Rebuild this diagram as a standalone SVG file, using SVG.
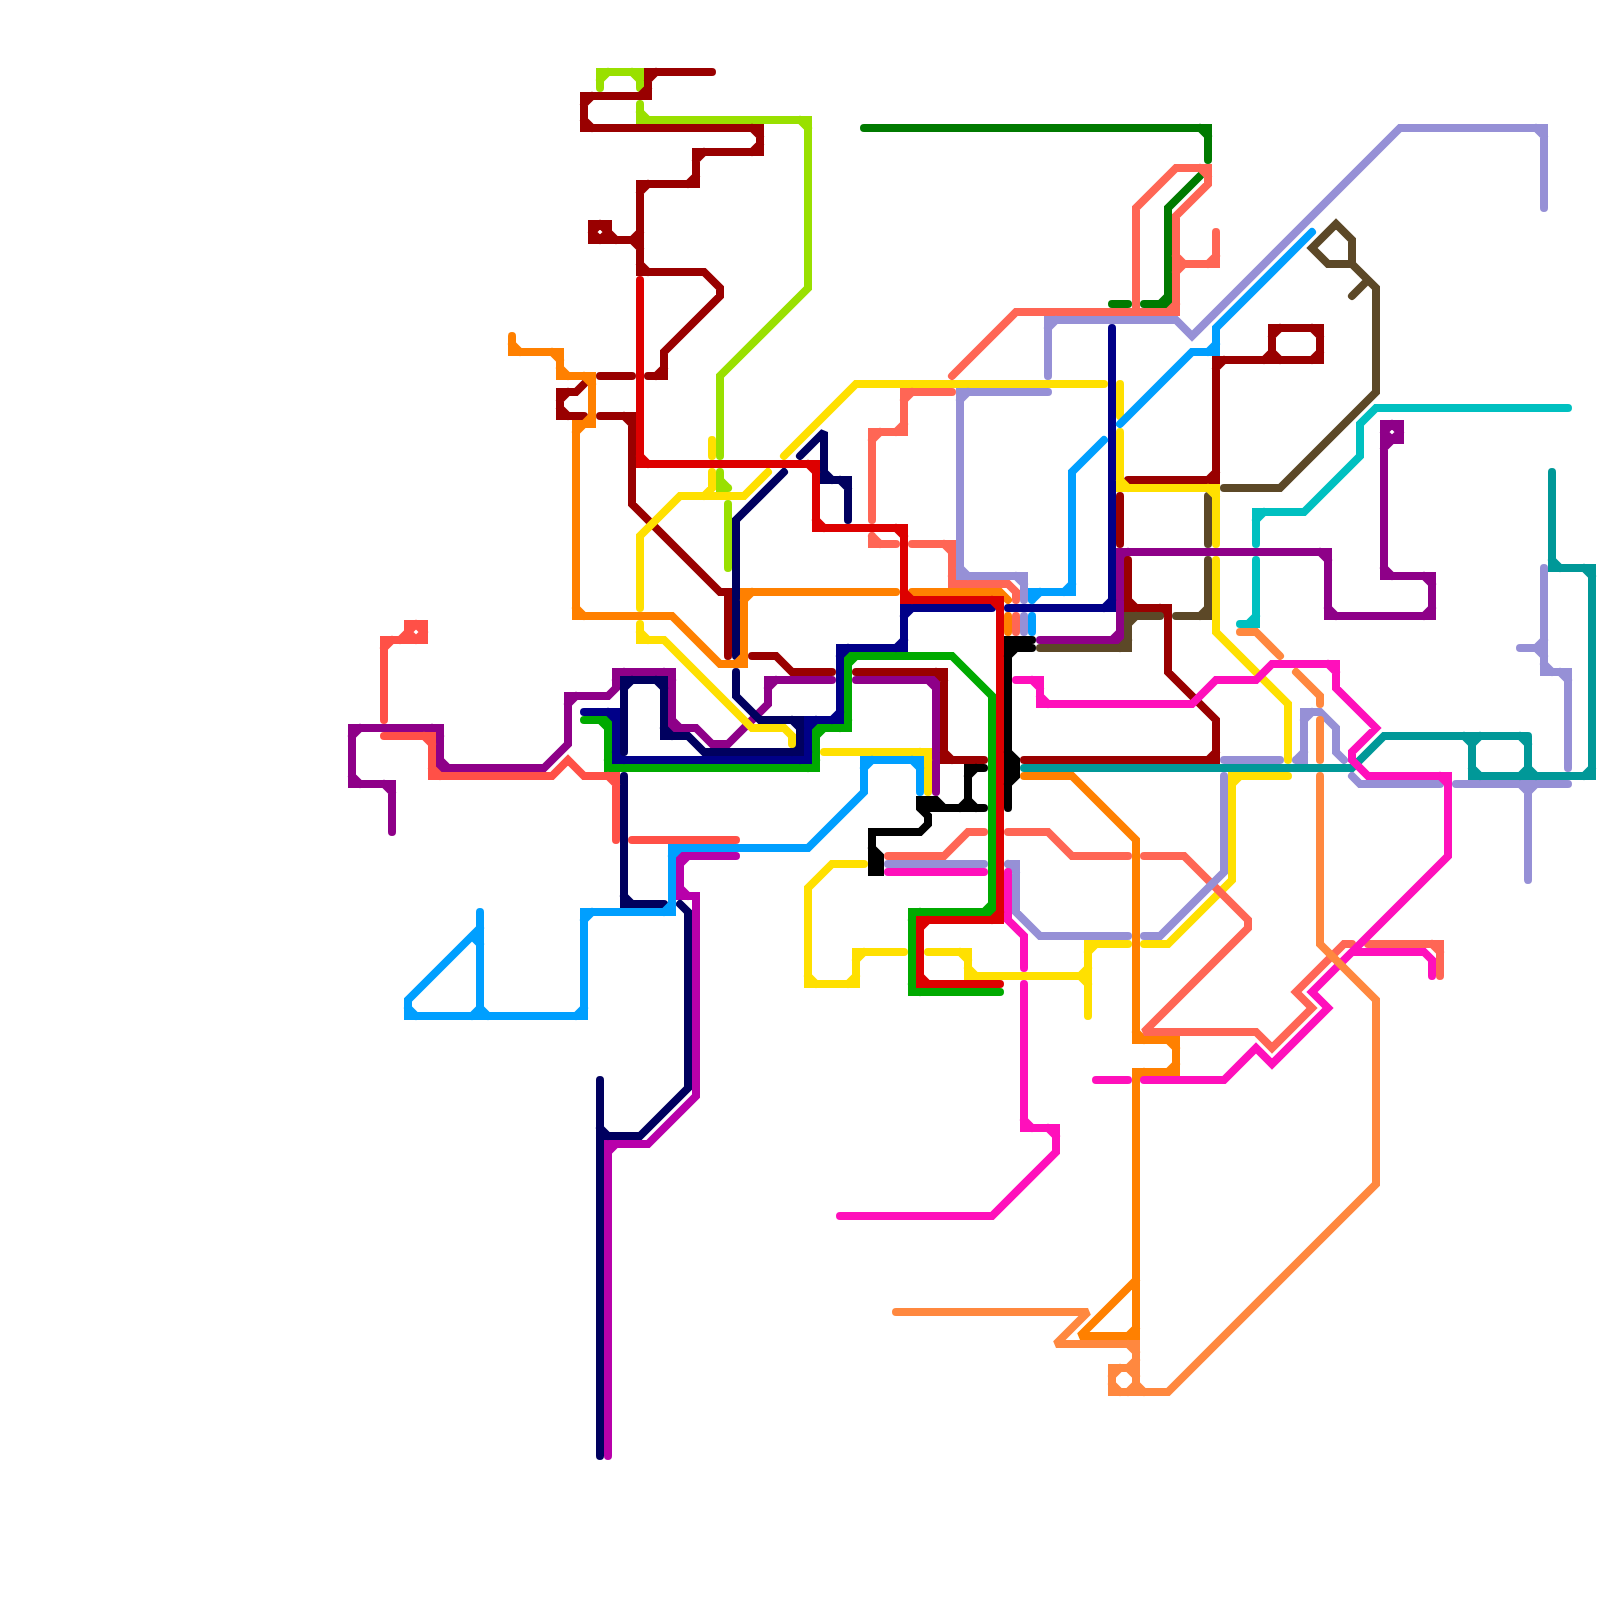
<svg xmlns="http://www.w3.org/2000/svg" width="1600" height="1600" viewBox="0 0 1600 1600">
<style>
path{fill:none;stroke-width:8;stroke-linecap:round;stroke-linejoin:miter;stroke-miterlimit:2}
.lgreen{stroke:#99e000}.dred{stroke:#990000}.red{stroke:#dd0000}.orange{stroke:#ff8000}.yellow{stroke:#ffe000}
.green{stroke:#00aa00}.dgreen{stroke:#007a00}.navy{stroke:#000088}.dnavy{stroke:#00005f}.purple{stroke:#8e0088}.magenta{stroke:#b800aa}
.blue{stroke:#009fff}.sred{stroke:#ff5047}.salmon{stroke:#ff6655}.lorange{stroke:#ff883f}.pink{stroke:#ff10bb}
.lav{stroke:#9690d6}.brown{stroke:#5c4827}.cyan{stroke:#00c0c0}.teal{stroke:#009898}.black{stroke:#000}
</style>
<rect width="1600" height="1600" fill="#fff"/>
<g id="connectors">
<path class="green" d="M584,720 L608,720 L608,768 L816,768 L816,728 L848,728 L848,656 L952,656 L992,696 L992,912 L912,912 L912,992 L1000,992 M600,720 L608,728 M616,768 L608,760 M808,768 L816,760 M824,728 L816,736 M840,728 L848,720 M856,656 L848,664 M984,912 L992,904 M920,912 L912,920 M920,992 L912,984"/>
<path class="dgreen" d="M864,128 L1208,128 L1208,160 M1200,176 L1168,208 L1168,304 L1144,304 M1112,304 L1128,304 M1200,128 L1208,136 M1160,304 L1168,296"/>
<path class="lgreen" d="M600,88 L600,72 L640,72 L640,88 M640,104 L640,120 L808,120 L808,288 L720,376 L720,456 M720,472 L720,488 L728,488 M728,504 L728,568 M608,72 L600,80 M632,72 L640,80 M648,120 L640,112 M800,120 L808,128 M728,488 L720,480"/>
<path class="purple" d="M392,832 L392,784 L352,784 L352,728 L440,728 L440,768 L544,768 L568,744 L568,696 L608,696 L616,688 L616,672 L672,672 L672,728 L696,728 L712,744 L728,744 L768,704 L768,680 L832,680 M384,784 L392,792 M360,784 L352,776 M360,728 L352,736 M432,728 L440,736 M448,768 L440,760 M576,696 L568,704 M624,672 L616,680 M664,672 L672,680 M680,728 L672,720 M776,680 L768,688 M856,680 L936,680 L936,792 M928,680 L936,688 M1040,640 L1120,640 L1120,552 L1328,552 L1328,616 L1432,616 L1432,576 L1384,576 L1384,424 L1400,424 L1400,440 L1384,440 M1112,640 L1120,632 M1128,552 L1120,560 M1320,552 L1328,560 M1336,616 L1328,608 M1424,616 L1432,608 M1424,576 L1432,584 M1392,576 L1384,568 M1392,424 L1384,432 M1392,424 L1400,432 M1392,440 L1400,432 M1392,440 L1384,432 M1392,440 L1384,448"/>
<path class="navy" d="M584,712 L616,712 L616,760 L808,760 L808,720 L840,720 L840,648 L904,648 L904,608 L992,608 M608,712 L616,720 M624,760 L616,752 M800,760 L808,752 M816,720 L808,728 M832,720 L840,712 M848,648 L840,656 M896,648 L904,640 M912,608 L904,616 M1112,328 L1112,608 L1008,608 M1104,608 L1112,600"/>
<path class="magenta" d="M736,856 L680,856 L680,896 L696,896 L696,1096 L648,1144 L608,1144 L608,1456 M688,856 L680,864 M688,896 L680,888 M616,1144 L608,1152"/>
<path class="dnavy" d="M624,752 L624,680 L664,680 L664,736 L688,736 L704,752 L800,752 L800,720 L760,720 L736,696 L736,672 M632,680 L624,688 M656,680 L664,688 M672,736 L664,728 M792,752 L800,744 M792,720 L800,728 M784,472 L736,520 L736,656 M800,456 L824,432 L824,480 L848,480 L848,520 M832,480 L824,472 M840,480 L848,488 M624,776 L624,904 L664,904 M632,904 L624,896 M680,904 L688,912 L688,1088 L640,1136 L600,1136 M600,1080 L600,1456 M608,1136 L600,1128"/>
<path class="dred" d="M712,72 L648,72 L648,96 L584,96 L584,128 L760,128 L760,152 L696,152 L696,184 L640,184 L640,272 L704,272 L720,288 L720,296 L664,352 L664,376 L648,376 M656,72 L648,80 M640,96 L648,88 M592,96 L584,104 M592,128 L584,120 M752,128 L760,136 M752,152 L760,144 M704,152 L696,160 M688,184 L696,176 M648,184 L640,192 M648,272 L640,264 M656,376 L664,368 M632,240 L640,232 M632,240 L640,248 M640,240 L592,240 L592,224 L608,224 L608,240 M600,240 L592,232 M600,224 L592,232 M600,224 L608,232 M600,240 L608,232 M616,240 L608,232 M600,376 L632,376 M584,384 L576,392 L560,392 L560,416 L584,416 M568,392 L560,400 M568,416 L560,408 M600,416 L632,416 L632,504 L720,592 L728,592 L728,656 M624,416 L632,424 M856,672 L944,672 L944,760 L984,760 M936,672 L944,680 M952,760 L944,752 M752,656 L776,656 L792,672 L832,672 M1128,560 L1128,608 L1168,608 L1168,672 L1216,720 L1216,760 L1024,760 M1136,608 L1128,600 M1160,608 L1168,616 M1208,760 L1216,752 M1120,496 L1120,544 M1128,480 L1216,480 L1216,360 L1320,360 L1320,328 L1272,328 L1272,360 M1208,480 L1216,472 M1224,360 L1216,368 M1312,360 L1320,352 M1312,328 L1320,336 M1280,328 L1272,336 M1280,360 L1272,352 M1264,360 L1272,352"/>
<path class="brown" d="M1224,488 L1280,488 L1376,392 L1376,288 L1352,264 L1352,240 L1336,224 L1312,248 L1328,264 L1352,264 M1352,296 L1368,280 M1208,496 L1208,544 M1208,560 L1208,616 L1176,616 M1200,616 L1208,608 M1160,616 L1128,616 L1128,648 L1040,648 M1136,616 L1128,624 M1120,648 L1128,640"/>
<path class="orange" d="M512,336 L512,352 L560,352 L560,376 L592,376 L592,424 L576,424 L576,616 L672,616 L720,664 L744,664 L744,592 L896,592 M520,352 L512,344 M552,352 L560,360 M568,376 L560,368 M584,376 L592,384 M584,424 L592,416 M584,424 L576,432 M584,616 L576,608 M736,664 L744,656 M752,592 L744,600 M912,592 L1000,592 L1008,600 M1008,616 L1008,632 M1024,776 L1072,776 L1136,840 L1136,1040 L1176,1040 L1176,1072 L1136,1072 L1136,1336 L1080,1336 L1136,1280 M1144,1040 L1136,1032 M1168,1040 L1176,1048 M1168,1072 L1176,1064 M1144,1072 L1136,1080 M1128,1336 L1136,1328"/>
<path class="yellow" d="M784,456 L856,384 L1104,384 M1120,384 L1120,416 M1120,432 L1120,488 L1216,488 L1216,544 M1128,488 L1120,480 M1208,488 L1216,496 M1216,560 L1216,632 L1288,704 L1288,760 M768,472 L744,496 L680,496 L640,536 L640,608 M712,440 L712,456 M712,472 L712,488 L704,496 M640,624 L640,640 L664,640 L752,728 L784,728 L792,736 L792,744 M648,640 L640,632 M824,752 L928,752 L928,792 M920,752 L928,760 M864,864 L832,864 L808,888 L808,984 L856,984 L856,952 L904,952 M816,984 L808,976 M848,984 L856,976 M864,952 L856,960 M928,952 L968,952 L968,976 L1088,976 M960,952 L968,960 M976,976 L968,968 M1128,944 L1088,944 L1088,1016 M1096,944 L1088,952 M1080,976 L1088,968 M1080,976 L1088,984 M1144,944 L1168,944 L1232,880 L1232,776 L1288,776 M1240,776 L1232,784"/>
<path class="blue" d="M1312,232 L1216,328 L1216,352 L1192,352 L1120,424 M1208,352 L1216,344 M1104,440 L1072,472 L1072,592 L1032,592 L1032,600 M1064,592 L1072,584 M1040,592 L1032,600 M1032,616 L1032,632 M920,792 L920,760 L864,760 L864,792 L808,848 L672,848 L672,912 L584,912 L584,1016 L408,1016 L408,1000 L480,928 M480,912 L480,1016 M912,760 L920,768 M872,760 L864,768 M680,848 L672,856 M664,912 L672,904 M592,912 L584,920 M576,1016 L584,1008 M472,1016 L480,1008 M488,1016 L480,1008 M416,1016 L408,1008 M472,936 L480,944"/>
<path class="sred" d="M384,720 L384,640 L424,640 L424,624 L408,624 L408,640 M392,640 L384,648 M416,640 L424,632 M416,624 L424,632 M416,624 L408,632 M416,640 L408,632 M400,640 L408,632 M384,736 L432,736 L432,776 L552,776 L568,760 L584,776 L616,776 L616,840 M424,736 L432,744 M440,776 L432,768 M608,776 L616,784 M632,840 L736,840"/>
<path class="salmon" d="M952,376 L1016,312 L1176,312 L1176,216 L1208,184 L1208,168 L1176,168 L1136,208 L1136,312 M1168,312 L1176,304 M1200,168 L1208,176 M1216,232 L1216,264 L1176,264 M1184,264 L1176,256 M1184,264 L1176,272 M1208,264 L1216,256 M912,544 L952,544 L952,584 L1008,584 L1016,592 L1016,600 M944,544 L952,552 M960,584 L952,576 M1016,616 L1016,632 M952,392 L904,392 L904,432 L872,432 L872,520 M912,392 L904,400 M896,432 L904,424 M880,432 L872,440 M872,536 L872,544 L896,544 M880,544 L872,536 M1144,856 L1184,856 L1248,920 L1248,928 L1144,1032 L1256,1032 L1272,1048 L1312,1008 L1296,992 L1344,944 L1352,944 M1368,944 L1440,944 L1440,976 M1432,944 L1440,952 M1008,832 L1048,832 L1072,856 L1128,856 M888,856 L944,856 L968,832 L984,832"/>
<path class="lav" d="M1048,376 L1048,320 L1176,320 L1192,336 L1400,128 L1544,128 L1544,208 M1056,320 L1048,328 M1536,128 L1544,136 M1048,392 L960,392 L960,576 L1024,576 L1024,600 M968,392 L960,400 M968,576 L960,568 M1016,576 L1024,584 M1024,616 L1024,632 M888,864 L984,864 M1008,864 L1016,864 L1016,912 L1040,936 L1128,936 M1008,864 L1016,872 M1144,936 L1160,936 L1224,872 L1224,776 M1224,760 L1280,760 M1296,760 L1304,760 L1304,712 L1320,712 L1336,728 L1336,752 L1344,760 M1312,712 L1304,720 M1296,760 L1304,752 M1544,568 L1544,672 L1568,672 L1568,768 M1552,672 L1544,664 M1560,672 L1568,680 M1520,648 L1544,648 M1536,648 L1544,640 M1536,648 L1544,656 M1352,776 L1360,784 L1440,784 M1456,784 L1568,784 M1528,784 L1528,880 M1520,784 L1528,792 M1536,784 L1528,792"/>
<path class="cyan" d="M1568,408 L1376,408 L1360,424 L1360,456 L1304,512 L1256,512 L1256,544 M1264,512 L1256,520 M1256,560 L1256,624 L1240,624 M1248,624 L1256,616"/>
<path class="teal" d="M1552,472 L1552,568 L1592,568 L1592,776 L1472,776 L1472,736 L1384,736 L1352,768 L1024,768 M1528,736 L1472,736 M1528,736 L1528,776 M1560,568 L1552,560 M1584,568 L1592,576 M1584,776 L1592,768 M1480,776 L1472,768 M1480,736 L1472,744 M1464,736 L1472,744 M1520,736 L1528,744 M1520,776 L1528,768 M1536,776 L1528,768"/>
<path class="pink" d="M888,872 L984,872 M1016,680 L1040,680 L1040,704 L1192,704 L1216,680 L1256,680 L1272,664 L1336,664 L1336,688 L1376,728 L1352,752 L1352,760 L1368,776 L1448,776 L1448,856 L1352,952 M1032,680 L1040,688 M1048,704 L1040,696 M1328,664 L1336,672 M1440,776 L1448,784 M1008,872 L1008,920 L1024,936 L1024,968 M1024,984 L1024,1128 L1056,1128 L1056,1152 L992,1216 L840,1216 M1032,1128 L1024,1120 M1048,1128 L1056,1136 M1096,1080 L1128,1080 M1144,1080 L1224,1080 L1256,1048 L1272,1064 L1328,1008 L1312,992 L1352,952 L1424,952 L1432,960 L1432,976"/>
<path class="lorange" d="M1240,632 L1256,632 L1280,656 M1296,672 L1320,696 L1320,704 M1320,720 L1320,760 M1320,776 L1320,944 L1376,1000 L1376,1184 L1168,1392 L1136,1392 M896,1312 L1088,1312 L1056,1344 L1136,1344 L1136,1392 L1112,1392 L1112,1368 L1136,1368 M1128,1344 L1136,1352 M1128,1368 L1136,1360 M1128,1368 L1136,1376 M1144,1392 L1136,1384 M1128,1392 L1136,1384 M1120,1392 L1112,1384 M1120,1368 L1112,1376"/>
<path class="red" d="M640,280 L640,464 L816,464 L816,528 L904,528 L904,600 L1000,600 L1000,920 L920,920 L920,984 L1000,984 M648,464 L640,456 M808,464 L816,472 M824,528 L816,520 M896,528 L904,536 M912,600 L904,592 M992,600 L1000,608 M992,920 L1000,912 M928,920 L920,928 M928,984 L920,976"/>
<path class="black" d="M1032,640 L1008,640 L1008,808 M1008,648 L1032,648 M1016,648 L1008,656 M1008,752 L1016,760 L1016,776 L1008,784 M984,768 L968,768 L968,808 M976,768 L968,776 M960,808 L968,800 M976,808 L968,800 M984,808 L944,808 L936,800 L920,800 L920,808 L928,816 L928,824 L920,832 L872,832 L872,872 L880,872 L880,856 L872,848 M920,808 L944,808"/>
</g>
</svg>
